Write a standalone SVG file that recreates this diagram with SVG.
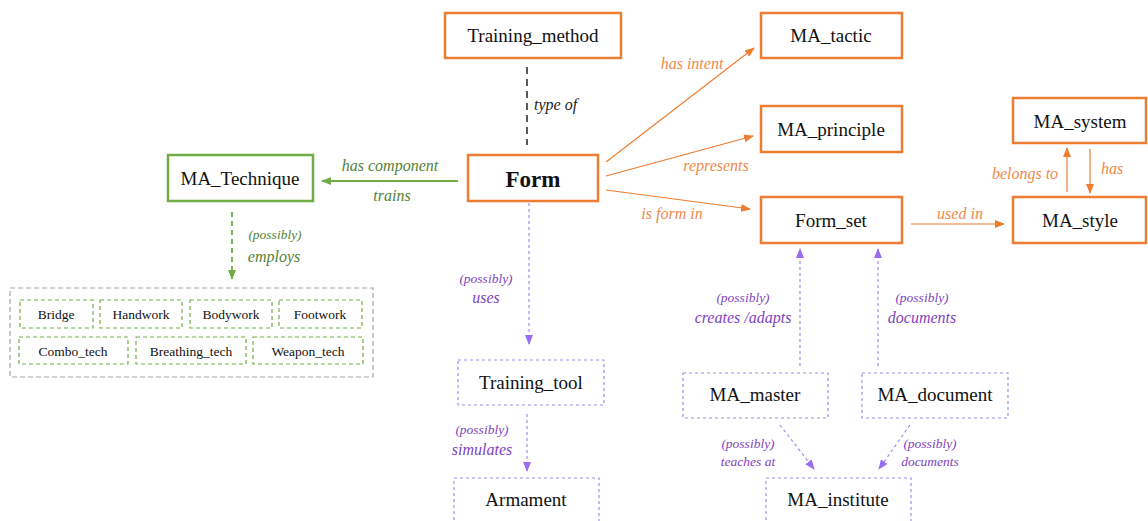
<svg xmlns="http://www.w3.org/2000/svg" width="1148" height="521" viewBox="0 0 1148 521">
<style>
.ob{fill:#fff;stroke:#ED7D31;stroke-width:2.5}
.gb{fill:#fff;stroke:#70AD47;stroke-width:2.5}
.pb{fill:#fff;stroke:#A58BF0;stroke-width:1.2;stroke-dasharray:3,3}
.sb{fill:#fff;stroke:#70AD47;stroke-width:1.2;stroke-dasharray:4,3}
.outer{fill:none;stroke:#A6A6A6;stroke-width:1.2;stroke-dasharray:5,3}
text{font-family:'Liberation Serif','Times New Roman','DejaVu Serif',serif}
.t{font-size:19px;fill:#111;text-anchor:middle}
.ts{font-size:13.5px;fill:#111;text-anchor:middle}
.lo{font-style:italic;font-size:16px;fill:#F08A4B;text-anchor:middle}
.lg{font-style:italic;font-size:16px;fill:#548235;text-anchor:middle}
.lp{font-style:italic;font-size:16px;fill:#7F3FBF;text-anchor:middle}
.lps{font-style:italic;font-size:13.5px;fill:#7F3FBF;text-anchor:middle}
.lk{font-style:italic;font-size:16px;fill:#222;text-anchor:start}
.co{stroke:#ED7D31;stroke-width:1.2;fill:none}
.cg{stroke:#70AD47;stroke-width:2;fill:none}
.cgd{stroke:#70AD47;stroke-width:1.8;fill:none;stroke-dasharray:5,4}
.cp{stroke:#A58BF0;stroke-width:1.2;fill:none;stroke-dasharray:3,3}
.ck{stroke:#222;stroke-width:1.5;fill:none;stroke-dasharray:7,5}
</style>
<defs>
<marker id="ao" markerWidth="10" markerHeight="8" refX="9" refY="4" orient="auto" markerUnits="userSpaceOnUse"><path d="M0,0 L10,4 L0,8 z" fill="#ED7D31"/></marker>
<marker id="ag" markerWidth="10" markerHeight="8" refX="9" refY="4" orient="auto" markerUnits="userSpaceOnUse"><path d="M0,0 L10,4 L0,8 z" fill="#70AD47"/></marker>
<marker id="ap" markerWidth="10" markerHeight="8" refX="9" refY="4" orient="auto" markerUnits="userSpaceOnUse"><path d="M0,0 L10,4 L0,8 z" fill="#9B6BF2"/></marker>
</defs>
<rect width="1148" height="521" fill="#fff"/>

<g id="connectors">
<line class="ck" x1="527" y1="67" x2="527" y2="145"/>
<text class="lk" x="534" y="110">type of</text>
<line class="co" x1="606" y1="162" x2="754" y2="48" marker-end="url(#ao)"/>
<text class="lo" x="692" y="69">has intent</text>
<line class="co" x1="606" y1="176" x2="753" y2="136" marker-end="url(#ao)"/>
<text class="lo" x="716" y="171">represents</text>
<line class="co" x1="606" y1="190" x2="750" y2="209" marker-end="url(#ao)"/>
<text class="lo" x="672" y="219">is form in</text>
<line class="co" x1="911" y1="224" x2="1004" y2="224" marker-end="url(#ao)"/>
<text class="lo" x="960" y="219">used in</text>
<line class="co" x1="1067" y1="192" x2="1067" y2="148" marker-end="url(#ao)"/>
<line class="co" x1="1090" y1="149" x2="1090" y2="193" marker-end="url(#ao)"/>
<text class="lo" x="1025" y="179">belongs to</text>
<text class="lo" x="1112" y="174">has</text>
<line class="cg" x1="458" y1="181" x2="322" y2="181" marker-end="url(#ag)"/>
<text class="lg" x="390" y="171">has component</text>
<text class="lg" x="392" y="201">trains</text>
<line class="cgd" x1="232" y1="212" x2="232" y2="279" marker-end="url(#ag)"/>
<text class="lg" x="275" y="239" style="font-size:13.5px">(possibly)</text>
<text class="lg" x="274" y="262">employs</text>
<line class="cp" x1="529" y1="203" x2="529" y2="344" marker-end="url(#ap)"/>
<text class="lps" x="486" y="283">(possibly)</text>
<text class="lp" x="486" y="303">uses</text>
<line class="cp" x1="527" y1="414" x2="527" y2="471" marker-end="url(#ap)"/>
<text class="lps" x="482" y="434">(possibly)</text>
<text class="lp" x="482" y="455">simulates</text>
<line class="cp" x1="800" y1="366" x2="800" y2="249" marker-end="url(#ap)"/>
<text class="lps" x="743" y="302">(possibly)</text>
<text class="lp" x="743" y="323">creates /adapts</text>
<line class="cp" x1="878" y1="366" x2="878" y2="249" marker-end="url(#ap)"/>
<text class="lps" x="922" y="302">(possibly)</text>
<text class="lp" x="922" y="323">documents</text>
<line class="cp" x1="780" y1="425" x2="814" y2="469" marker-end="url(#ap)"/>
<text class="lps" x="748" y="448">(possibly)</text>
<text class="lps" x="748" y="466">teaches at</text>
<line class="cp" x1="910" y1="425" x2="879" y2="469" marker-end="url(#ap)"/>
<text class="lps" x="930" y="448">(possibly)</text>
<text class="lps" x="930" y="466">documents</text>
</g>

<g id="Training_method"><rect class="ob" x="445" y="13" width="176" height="45"/><text class="t" x="533" y="42">Training_method</text></g>
<g id="Form"><rect class="ob" x="468" y="155" width="130" height="46"/><text class="t" x="533" y="187" style="font-weight:bold;font-size:23px">Form</text></g>
<g id="MA_tactic"><rect class="ob" x="761" y="13" width="141" height="45"/><text class="t" x="831" y="42">MA_tactic</text></g>
<g id="MA_principle"><rect class="ob" x="761" y="106" width="141" height="46"/><text class="t" x="831" y="136">MA_principle</text></g>
<g id="Form_set"><rect class="ob" x="761" y="197" width="141" height="46"/><text class="t" x="831" y="227">Form_set</text></g>
<g id="MA_system"><rect class="ob" x="1013" y="98" width="133" height="45"/><text class="t" x="1080" y="128">MA_system</text></g>
<g id="MA_style"><rect class="ob" x="1013" y="197" width="133" height="46"/><text class="t" x="1080" y="227">MA_style</text></g>
<g id="MA_Technique"><rect class="gb" x="168" y="155" width="145" height="46"/><text class="t" x="240" y="185">MA_Technique</text></g>

<g id="Technique_group">
<rect class="outer" x="10" y="288" width="363" height="89"/>
<g id="Bridge"><rect class="sb" x="20" y="300" width="73" height="28"/><text class="ts" x="56" y="319">Bridge</text></g>
<g id="Handwork"><rect class="sb" x="100" y="300" width="82" height="28"/><text class="ts" x="141" y="319">Handwork</text></g>
<g id="Bodywork"><rect class="sb" x="190" y="300" width="82" height="28"/><text class="ts" x="231" y="319">Bodywork</text></g>
<g id="Footwork"><rect class="sb" x="279" y="300" width="83" height="28"/><text class="ts" x="320" y="319">Footwork</text></g>
<g id="Combo_tech"><rect class="sb" x="19" y="337" width="109" height="27"/><text class="ts" x="73" y="356">Combo_tech</text></g>
<g id="Breathing_tech"><rect class="sb" x="136" y="337" width="110" height="27"/><text class="ts" x="191" y="356">Breathing_tech</text></g>
<g id="Weapon_tech"><rect class="sb" x="253" y="337" width="110" height="27"/><text class="ts" x="308" y="356">Weapon_tech</text></g>
</g>

<g id="Training_tool"><rect class="pb" x="458" y="360" width="146" height="45"/><text class="t" x="531" y="389">Training_tool</text></g>
<g id="Armament"><rect class="pb" x="454" y="478" width="145" height="50"/><text class="t" x="526" y="506">Armament</text></g>
<g id="MA_master"><rect class="pb" x="683" y="373" width="145" height="45"/><text class="t" x="755" y="401">MA_master</text></g>
<g id="MA_document"><rect class="pb" x="862" y="373" width="146" height="45"/><text class="t" x="935" y="401">MA_document</text></g>
<g id="MA_institute"><rect class="pb" x="766" y="478" width="145" height="50"/><text class="t" x="838" y="506">MA_institute</text></g>
</svg>
